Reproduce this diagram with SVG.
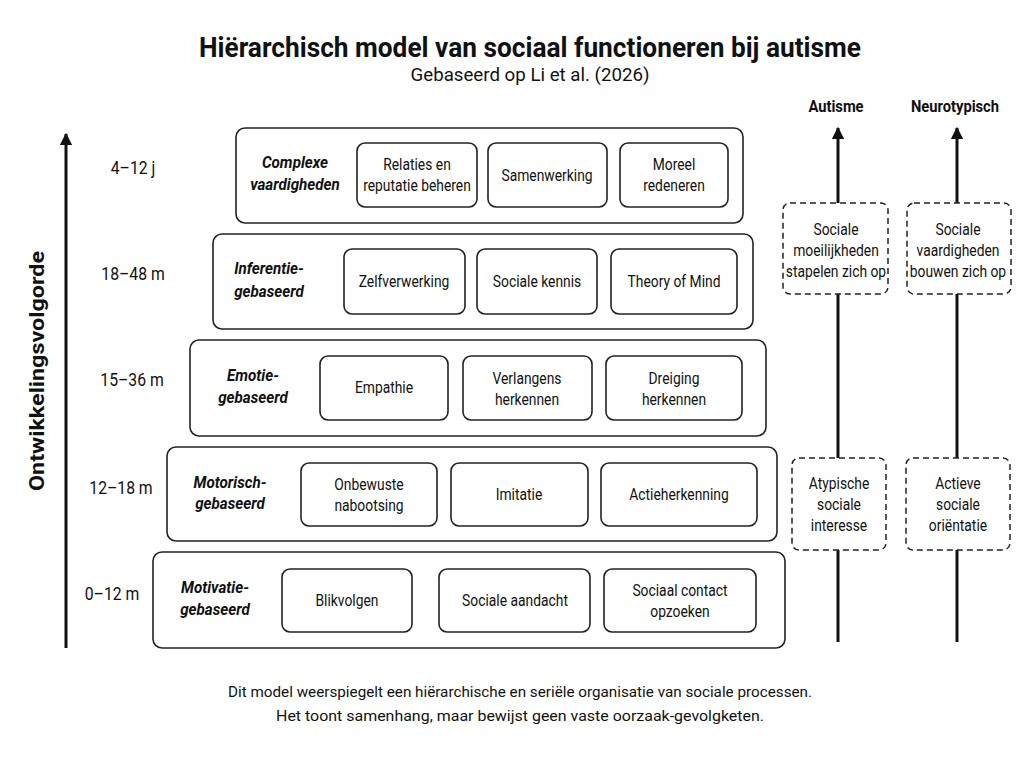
<svg xmlns="http://www.w3.org/2000/svg" width="1024" height="768" viewBox="0 0 1024 768">
<defs>
<marker id="ah" viewBox="0 0 10 10" refX="9" refY="5" markerWidth="4.2" markerHeight="4.2" orient="auto" markerUnits="strokeWidth">
<path d="M0,0 L10,5 L0,10 Z" fill="#111"/>
</marker>
<style>
text{font-family:Roboto,"Liberation Sans",Arial,sans-serif;fill:#111;}
.title{font-size:28px;font-weight:bold;text-anchor:middle;}
.sub{font-size:18.5px;text-anchor:middle;}
.tier{fill:#fff;stroke:#222;stroke-width:1.6;}
.item{fill:#fff;stroke:#222;stroke-width:1.6;}
.it{font-size:16.5px;text-anchor:middle;transform-box:fill-box;transform-origin:center;transform:scaleX(0.84);}
.tl{font-size:16px;font-weight:bold;font-style:italic;text-anchor:middle;transform-box:fill-box;transform-origin:center;transform:scaleX(0.95);}
.age{font-size:17.5px;text-anchor:middle;transform-box:fill-box;transform-origin:center;transform:scaleX(0.9);}
.hd{font-size:16px;font-weight:bold;text-anchor:middle;transform-box:fill-box;transform-origin:center;transform:scaleX(0.92);}
.dash{fill:#fff;stroke:#222;stroke-width:1.5;stroke-dasharray:6 4;}
.ln{stroke:#111;stroke-width:3;fill:none;}
.note{font-size:15.5px;text-anchor:middle;}
</style>
</defs>
<rect width="1024" height="768" fill="#fff"/>
<text class="title" x="530" y="57" textLength="662" lengthAdjust="spacingAndGlyphs">Hiërarchisch model van sociaal functioneren bij autisme</text>
<text class="sub" x="530" y="81" textLength="239" lengthAdjust="spacingAndGlyphs">Gebaseerd op Li et al. (2026)</text>

<g id="connectors">
<line class="ln" x1="66" y1="648" x2="66" y2="134" marker-end="url(#ah)"/>
<line class="ln" x1="838" y1="642" x2="838" y2="550"/>
<line class="ln" x1="838" y1="458" x2="838" y2="294"/>
<line class="ln" x1="838" y1="203" x2="838" y2="128" marker-end="url(#ah)"/>
<line class="ln" x1="957" y1="642" x2="957" y2="550"/>
<line class="ln" x1="957" y1="458" x2="957" y2="294"/>
<line class="ln" x1="957" y1="203" x2="957" y2="128" marker-end="url(#ah)"/>
</g>

<g id="axis-label">
<text x="44" y="371" transform="rotate(-90 44 371)" textLength="240" lengthAdjust="spacingAndGlyphs" style="font-size:21px;font-weight:bold;text-anchor:middle;">Ontwikkelingsvolgorde</text>
</g>

<g id="ages">
<text class="age" x="133" y="174">4–12 j</text>
<text class="age" x="133" y="280">18–48 m</text>
<text class="age" x="132" y="386">15–36 m</text>
<text class="age" x="121" y="494">12–18 m</text>
<text class="age" x="112" y="600">0–12 m</text>
</g>

<g id="tier-complex">
<rect class="tier" x="236" y="128" width="507" height="95" rx="9"/>
<text class="tl" x="295" y="168">Complexe</text>
<text class="tl" x="295" y="190">vaardigheden</text>
<g id="n-relaties"><rect class="item" x="357" y="143" width="120" height="64" rx="8"/>
<text class="it" x="417" y="170">Relaties en</text><text class="it" x="417" y="191">reputatie beheren</text></g>
<g id="n-samenwerking"><rect class="item" x="488" y="143" width="119" height="64" rx="8"/>
<text class="it" x="547" y="181">Samenwerking</text></g>
<g id="n-moreel"><rect class="item" x="620" y="143" width="108" height="64" rx="8"/>
<text class="it" x="674" y="170">Moreel</text><text class="it" x="674" y="191">redeneren</text></g>
</g>

<g id="tier-inferentie">
<rect class="tier" x="213" y="234" width="540" height="95" rx="9"/>
<text class="tl" x="269" y="274">Inferentie-</text>
<text class="tl" x="269" y="297">gebaseerd</text>
<g id="n-zelf"><rect class="item" x="344" y="249" width="121" height="65" rx="8"/>
<text class="it" x="404" y="287">Zelfverwerking</text></g>
<g id="n-kennis"><rect class="item" x="477" y="249" width="120" height="65" rx="8"/>
<text class="it" x="537" y="287">Sociale kennis</text></g>
<g id="n-tom"><rect class="item" x="611" y="249" width="126" height="65" rx="8"/>
<text class="it" x="674" y="287">Theory of Mind</text></g>
</g>

<g id="tier-emotie">
<rect class="tier" x="190" y="340" width="576" height="96" rx="9"/>
<text class="tl" x="253" y="381">Emotie-</text>
<text class="tl" x="253" y="403">gebaseerd</text>
<g id="n-empathie"><rect class="item" x="320" y="356" width="128" height="64" rx="8"/>
<text class="it" x="384" y="393">Empathie</text></g>
<g id="n-verlangens"><rect class="item" x="463" y="356" width="129" height="64" rx="8"/>
<text class="it" x="527" y="384">Verlangens</text><text class="it" x="527" y="405">herkennen</text></g>
<g id="n-dreiging"><rect class="item" x="606" y="356" width="136" height="64" rx="8"/>
<text class="it" x="674" y="384">Dreiging</text><text class="it" x="674" y="405">herkennen</text></g>
</g>

<g id="tier-motorisch">
<rect class="tier" x="167" y="447" width="610" height="94" rx="9"/>
<text class="tl" x="230" y="488">Motorisch-</text>
<text class="tl" x="230" y="509">gebaseerd</text>
<g id="n-onbewust"><rect class="item" x="301" y="463" width="136" height="63" rx="8"/>
<text class="it" x="369" y="490">Onbewuste</text><text class="it" x="369" y="511">nabootsing</text></g>
<g id="n-imitatie"><rect class="item" x="451" y="463" width="137" height="63" rx="8"/>
<text class="it" x="519" y="500">Imitatie</text></g>
<g id="n-actie"><rect class="item" x="601" y="463" width="156" height="63" rx="8"/>
<text class="it" x="679" y="500">Actieherkenning</text></g>
</g>

<g id="tier-motivatie">
<rect class="tier" x="153" y="552" width="632" height="96" rx="9"/>
<text class="tl" x="215" y="593">Motivatie-</text>
<text class="tl" x="215" y="615">gebaseerd</text>
<g id="n-blik"><rect class="item" x="282" y="569" width="130" height="63" rx="8"/>
<text class="it" x="347" y="606">Blikvolgen</text></g>
<g id="n-aandacht"><rect class="item" x="439" y="569" width="151" height="63" rx="8"/>
<text class="it" x="515" y="606">Sociale aandacht</text></g>
<g id="n-contact"><rect class="item" x="604" y="569" width="152" height="63" rx="8"/>
<text class="it" x="680" y="596">Sociaal contact</text><text class="it" x="680" y="617">opzoeken</text></g>
</g>

<g id="col-autisme">
<text class="hd" x="836" y="112">Autisme</text>
<g id="n-aut-top"><rect class="dash" x="783" y="203" width="105" height="91" rx="7"/>
<text class="it" x="836" y="235">Sociale</text><text class="it" x="836" y="256">moeilijkheden</text><text class="it" x="836" y="277">stapelen zich op</text></g>
<g id="n-aut-bottom"><rect class="dash" x="792" y="458" width="94" height="92" rx="7"/>
<text class="it" x="839" y="489">Atypische</text><text class="it" x="839" y="510">sociale</text><text class="it" x="839" y="531">interesse</text></g>
</g>

<g id="col-neurotypisch">
<text class="hd" x="955" y="112">Neurotypisch</text>
<g id="n-nt-top"><rect class="dash" x="907" y="203" width="104" height="91" rx="7"/>
<text class="it" x="958" y="235">Sociale</text><text class="it" x="958" y="256">vaardigheden</text><text class="it" x="958" y="277">bouwen zich op</text></g>
<g id="n-nt-bottom"><rect class="dash" x="906" y="458" width="104" height="92" rx="7"/>
<text class="it" x="958" y="489">Actieve</text><text class="it" x="958" y="510">sociale</text><text class="it" x="958" y="531">oriëntatie</text></g>
</g>

<g id="footnote">
<text class="note" x="520" y="697" textLength="584" lengthAdjust="spacingAndGlyphs">Dit model weerspiegelt een hiërarchische en seriële organisatie van sociale processen.</text>
<text class="note" x="520" y="721" textLength="488" lengthAdjust="spacingAndGlyphs">Het toont samenhang, maar bewijst geen vaste oorzaak-gevolgketen.</text>
</g>
</svg>
